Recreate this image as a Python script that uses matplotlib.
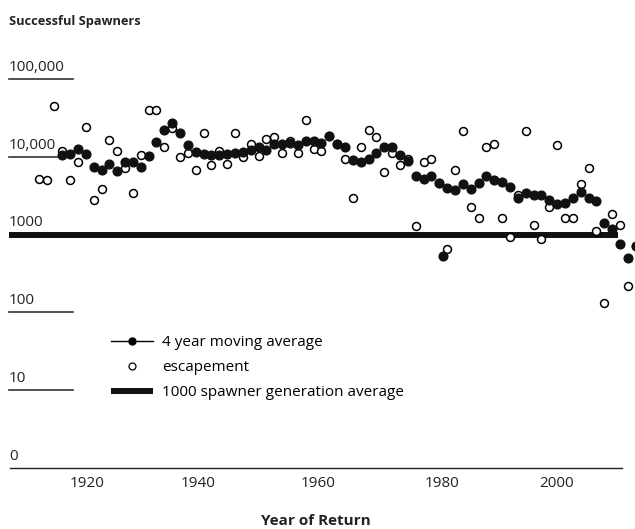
import numpy as np
import matplotlib.pyplot as plt
from matplotlib.lines import Line2D

plt.rcParams['font.family'] = ['Open Sans', 'DejaVu Sans']

# escapement, one value per return year (in plotting order)
escapement = [5250, 5000, 44700, 12000, 5000, 8700, 24000, 2750, 3800, 16200,
              11700, 7100, 3400, 10700, 39800, 39800, 13500, 23400, 10000, 11200,
              6800, 20000, 7800, 12000, 8100, 20000, 10000, 14800, 10200, 17000,
              18200, 11200, 15800, 11200, 29500, 12600, 11700, 18600, 14800, 9300,
              2950, 13200, 21900, 17800, 6300, 11200, 7800, 9500, 1290, 8500,
              9500, 4600, 650, 6800, 21400, 2240, 1620, 13200, 14800, 1620,
              930, 3200, 21400, 1320, 890, 2240, 14100, 1620, 1620, 4500,
              7200, 1120, 132, 1820, 1320, 220, 710]

# 4 year moving average, starts with the 4th year
moving_avg = [10700, 11000, 12600, 11000, 7400, 6800, 8100, 6600, 8700, 8500,
              7400, 10200, 15500, 21900, 27500, 20000, 14100, 11500, 11000, 10700,
              10700, 11000, 11200, 11500, 12300, 13200, 12300, 14800, 14500, 15100,
              14100, 15800, 15800, 15100, 18600, 14800, 13200, 9100, 8500, 9300,
              11200, 13200, 13200, 10500, 8900, 5600, 5250, 5600, 4600, 4000,
              3700, 4500, 3800, 4600, 5600, 5100, 4800, 4100, 2950, 3400,
              3200, 3200, 2800, 2500, 2570, 2950, 3550, 2950, 2700, 1410,
              1170, 760, 500, 710]

# stray filled point drawn between two years in the original
extra_pos = [51.5]
extra_val = [527]

# x tick labels and where they sit along the series
tick_pos = [6.15, 20.3, 35.6, 51.3, 65.95]
tick_labels = ['1920', '1940', '1960', '1980', '2000']

y_levels = [1e5, 1e4, 1e3, 1e2, 1e1, 1]
y_labels = ['100,000', '10,000', '1000', '100', '10', '0']

W, H = 635, 529
fig = plt.figure(figsize=(W / 100, H / 100), dpi=100)
ax = fig.add_axes([10 / W, 1 - 468 / H, 612 / W, 389 / H])

idx = np.arange(len(escapement))
idx_avg = idx[len(escapement) - len(moving_avg):]

ax.set_yscale('log')
ax.set_ylim(1, 1e5)
ax.set_xlim(-3.65, 74.26)

# reference line at 1000
ax.axhline(1000, xmin=-0.002, xmax=0.9935, color='#111111', lw=4.3,
           clip_on=False, zorder=2, solid_capstyle='butt')

ax.plot(idx, escapement, ls='none', marker='o', ms=5.7, mfc='white',
        mec='black', mew=1.1, clip_on=False, zorder=3)
ax.plot(idx_avg, moving_avg, ls='none', marker='o', ms=6.3, mfc='#111111',
        mec='#111111', clip_on=False, zorder=4)
ax.plot(extra_pos, extra_val, ls='none', marker='o', ms=6.3, mfc='#111111',
        mec='#111111', clip_on=False, zorder=4)

# y labels sit over short rules on the left
ytr = ax.get_yaxis_transform()
for val, lab in zip(y_levels, y_labels):
    if val not in (1000, 1):
        ax.plot([-0.002, 0.103], [val, val], transform=ytr, color='#333333',
                lw=1.2, clip_on=False)
    ax.annotate(lab, (-0.002, val), xycoords=ytr, xytext=(0, 3),
                textcoords='offset points', ha='left', va='bottom',
                fontsize=11, color='#222222')

for s in ['top', 'right', 'left']:
    ax.spines[s].set_visible(False)
ax.spines['bottom'].set_color('#222222')
ax.spines['bottom'].set_linewidth(1.0)
ax.set_yticks([])
ax.minorticks_off()
ax.set_xticks(tick_pos)
ax.set_xticklabels(tick_labels, fontsize=11, color='#222222')
ax.tick_params(axis='x', length=0, pad=6)

fig.text(316 / W, 1 - 525 / H, 'Year of Return', fontsize=11,
         fontweight='bold', color='#222222', ha='center', va='baseline')
fig.text(9 / W, 1 - 22 / H, 'Successful Spawners', fontsize=9.2,
         fontweight='bold', color='#222222', va='center', ha='left')

handles = [
    Line2D([], [], color='black', lw=1.0, marker='o', ms=5, mfc='black'),
    Line2D([], [], ls='none', marker='o', ms=5, mfc='white', mec='black', mew=0.9),
    Line2D([], [], color='#111111', lw=4.3, solid_capstyle='butt'),
]
labels = ['4 year moving average', 'escapement', '1000 spawner generation average']
fig.legend(handles, labels, loc='upper left',
           bbox_to_anchor=(111 / W, 1 - 335 / H), frameon=False,
           borderpad=0, borderaxespad=0, handlelength=2.75, handletextpad=0.6,
           labelspacing=0.65, fontsize=11)

fig.savefig('out.png', dpi=100)
